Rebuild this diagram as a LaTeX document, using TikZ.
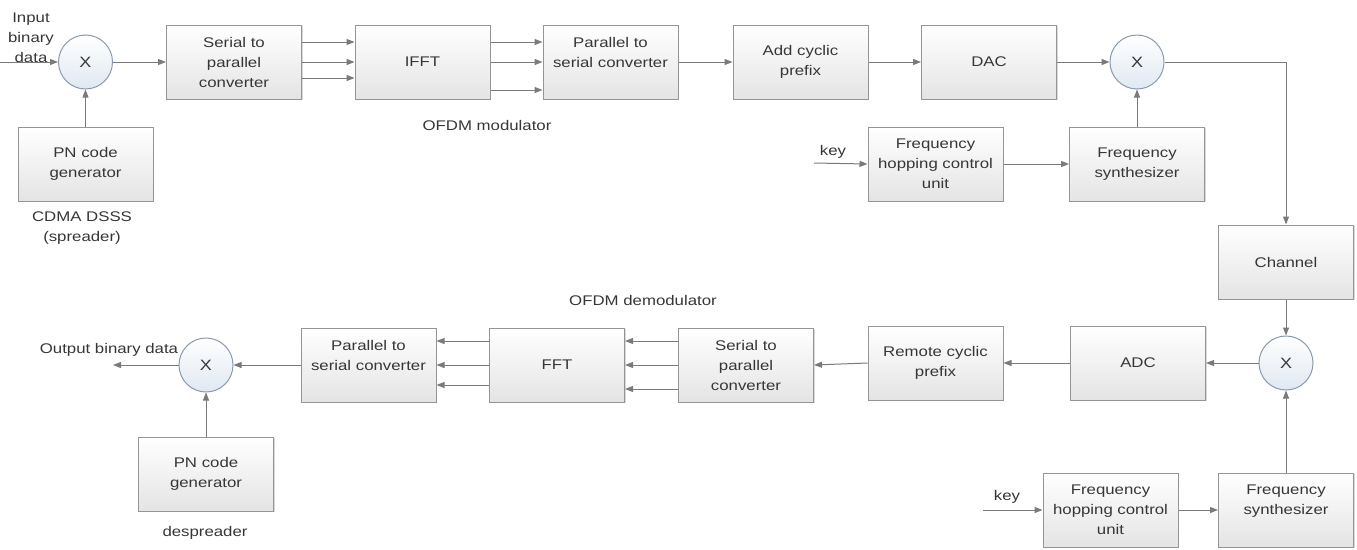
\documentclass[tikz,border=0pt]{standalone}
\usepackage{fontspec}
\setmainfont[FakeStretch=1.2]{Liberation Sans}
\usetikzlibrary{arrows.meta,shadows}
\definecolor{edgec}{HTML}{959595}
\definecolor{wirec}{HTML}{7A7A7A}
\definecolor{txt}{HTML}{363636}
\definecolor{boxbot}{HTML}{E4E4E4}
\definecolor{mixfill}{HTML}{E0E8F2}
\definecolor{mixedge}{HTML}{8A9AAE}
\begin{document}
\begin{tikzpicture}[x=1pt,y=-1pt,
  every node/.style={font=\fontsize{14}{20}\selectfont, text=txt},
  blk/.style={draw=edgec, line width=1pt, top color=white, bottom color=boxbot,
    minimum width=135pt, minimum height=74pt, align=center, inner sep=2pt,
    drop shadow={shadow xshift=1.2pt, shadow yshift=-1.2pt, opacity=0.3}},
  mix/.style={circle, draw=mixedge, line width=1pt, top color=white, bottom color=mixfill,
    minimum size=54pt, inner sep=0pt, font=\fontsize{15}{20}\selectfont},
  conn/.style={draw=wirec, line width=1pt, -{Triangle[length=8pt,width=6pt]}},
  lbl/.style={align=center, inner sep=0pt}]
\useasboundingbox (0,0) rectangle (1357,549);

% ---------- transmitter ----------
\node[mix] (m1) at (85.5,62) {X};
\node[blk] (sp1) at (234,62) {Serial to\\parallel\\converter};
\node[blk] (pn1) at (85.5,164) {PN code\\generator};
\node[blk] (ifft) at (422.5,62) {IFFT};
\node[blk] (ps1) at (610.5,62) {Parallel to\\serial converter\\\mbox{}};
\node[blk] (acp) at (800.5,62) {Add cyclic\\prefix};
\node[blk] (dac) at (989,62) {DAC};
\node[mix] (m2) at (1137,62) {X};
\node[blk] (fh1) at (935.5,164) {Frequency\\hopping control\\unit};
\node[blk] (fs1) at (1137,164) {Frequency\\synthesizer};
\node[blk] (ch) at (1286,262) {Channel};

% ---------- receiver ----------
\node[mix] (m3) at (1286,363) {X};
\node[blk] (adc) at (1138,363) {ADC};
\node[blk] (rcp) at (935.5,363) {Remote cyclic\\prefix};
\node[blk] (sp2) at (746,365) {Serial to\\parallel\\converter};
\node[blk] (fft) at (557,365) {FFT};
\node[blk] (ps2) at (368.5,365) {Parallel to\\serial converter\\\mbox{}};
\node[mix] (m4) at (206,365) {X};
\node[blk] (pn2) at (206,474) {PN code\\generator};
\node[blk] (fh2) at (1110.5,510) {Frequency\\hopping control\\unit};
\node[blk] (fs2) at (1286,510) {Frequency\\synthesizer\\\mbox{}};

% ---------- labels ----------
\node[lbl] (tin) at (31,38) {Input\\binary\\data};
\node[lbl] (tcdma) at (82,228) {CDMA DSSS\\(spreader)};
\node[lbl] (tmod) at (487,125) {OFDM modulator};
\node[lbl] (tkey1) at (833,152) {key};
\node[lbl] (tdemod) at (643,300) {OFDM demodulator};
\node[lbl] (tout) at (109,350) {Output binary data};
\node[lbl] (tdesp) at (205,533) {despreader};
\node[lbl] (tkey2) at (1007,497) {key};

% ---------- free ends ----------
\coordinate (inp) at (0,62);
\coordinate (k1) at (814,163);
\coordinate (k2) at (983,510);
\coordinate (outp) at (113,365);

% ---------- connectors: transmitter ----------
\draw[conn] (inp) -- (m1.west);
\draw[conn] (pn1.north) -- (m1.south);
\draw[conn] (m1.east) -- (sp1.west);
\draw[conn] ([yshift=20pt]sp1.east) -- ([yshift=20pt]sp1.east -| ifft.west);
\draw[conn] (sp1.east) -- (ifft.west);
\draw[conn] ([yshift=-16pt]sp1.east) -- ([yshift=-16pt]sp1.east -| ifft.west);
\draw[conn] ([yshift=20pt]ifft.east) -- ([yshift=20pt]ifft.east -| ps1.west);
\draw[conn] (ifft.east) -- (ps1.west);
\draw[conn] ([yshift=-28pt]ifft.east) -- ([yshift=-28pt]ifft.east -| ps1.west);
\draw[conn] (ps1.east) -- (acp.west);
\draw[conn] (acp.east) -- (dac.west);
\draw[conn] (dac.east) -- (m2.west);
\draw[conn] (k1) -- (fh1.west);
\draw[conn] (fh1.east) -- (fs1.west);
\draw[conn] (fs1.north) -- (m2.south);
\draw[conn] (m2.east) -| (ch.north);

% ---------- connectors: receiver ----------
\draw[conn] (ch.south) -- (m3.north);
\draw[conn] (m3.west) -- (adc.east);
\draw[conn] (k2) -- (fh2.west);
\draw[conn] (fh2.east) -- (fs2.west);
\draw[conn] (fs2.north) -- (m3.south);
\draw[conn] (adc.west) -- (rcp.east);
\draw[conn] (rcp.west) -- (sp2.east);
\draw[conn] ([yshift=24pt]sp2.west) -- ([yshift=24pt]sp2.west -| fft.east);
\draw[conn] (sp2.west) -- (fft.east);
\draw[conn] ([yshift=-24pt]sp2.west) -- ([yshift=-24pt]sp2.west -| fft.east);
\draw[conn] ([yshift=24pt]fft.west) -- ([yshift=24pt]fft.west -| ps2.east);
\draw[conn] (fft.west) -- (ps2.east);
\draw[conn] ([yshift=-20pt]fft.west) -- ([yshift=-20pt]fft.west -| ps2.east);
\draw[conn] (ps2.west) -- (m4.east);
\draw[conn] (pn2.north) -- (m4.south);
\draw[conn] (m4.west) -- (outp);
\end{tikzpicture}
\end{document}
